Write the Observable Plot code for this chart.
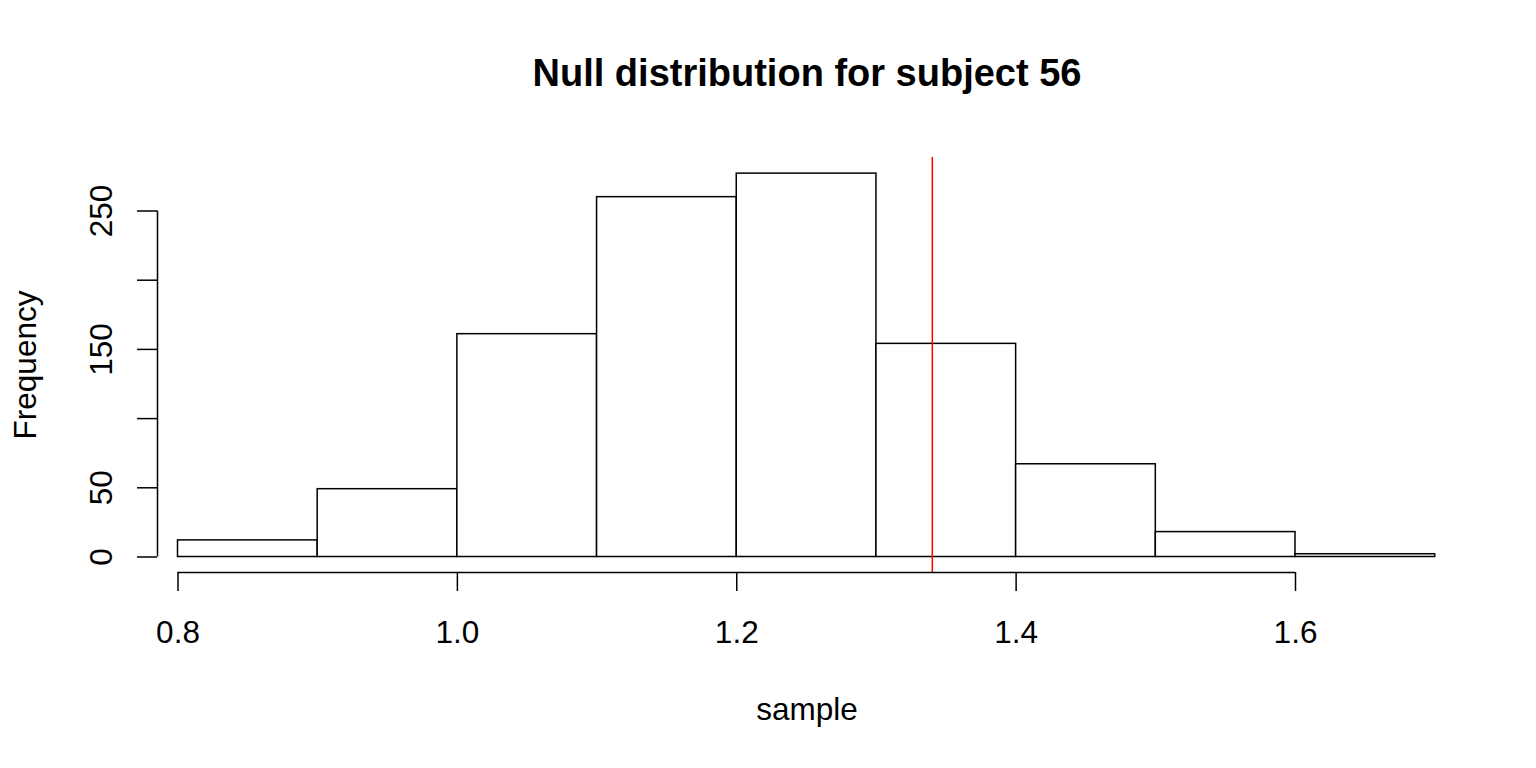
<!DOCTYPE html>
<html>
<head>
<meta charset="utf-8">
<script src="https://cdn.jsdelivr.net/npm/d3@7"></script>
<script src="https://cdn.jsdelivr.net/npm/@observablehq/plot@0.6"></script>
<style>
  html, body { margin: 0; padding: 0; background: #ffffff; }
  #chart svg { display: block; }
</style>
</head>
<body>
<div id="chart"></div>
<script>
// ---- data ----
const titleText = "Null distribution for subject 56";
const xLabel = "sample";
const yLabel = "Frequency";
const binStarts = [0.8, 0.9, 1.0, 1.1, 1.2, 1.3, 1.4, 1.5, 1.6];
const binEnds   = [0.9, 1.0, 1.1, 1.2, 1.3, 1.4, 1.5, 1.6, 1.7];
const counts    = [12, 49, 161, 260, 277, 154, 67, 18, 2];
const observed  = [1.34];
const xTicks = [0.8, 1.0, 1.2, 1.4, 1.6];
const yTicks = [0, 50, 100, 150, 200, 250];
const yTickLabels = [0, 50, 150, 250];

const bins = binStarts.map((x0, i) => ({x0, x1: binEnds[i], count: counts[i]}));

const FS = 31.5;

const chart = Plot.plot({
  width: 1536,
  height: 768,
  marginLeft: 157,
  marginRight: 80,
  marginTop: 157,
  marginBottom: 196,
  x: {domain: [0.8, 1.6], range: [177.5, 1295]},
  y: {domain: [0, 250], range: [556.5, 210.5]},
  style: {fontFamily: "'Liberation Sans', Arial, Helvetica, sans-serif", background: "#ffffff", color: "#000000"},
  marks: [
    Plot.rectY(bins, {x1: "x0", x2: "x1", y1: 0, y2: "count", fill: "white", stroke: "black", strokeWidth: 1.5, inset: 0}),
    Plot.ruleX(observed, {x: d => d, stroke: "#ff0000", strokeWidth: 1.5}),
    // x axis
    Plot.ruleY([0], {x1: xTicks[0], x2: xTicks[xTicks.length - 1], dy: 15.5, stroke: "black", strokeWidth: 1.5}),
    Plot.axisX({ticks: xTicks, tickSize: 19, tickPadding: 29.5, tickFormat: d3.format(".1f"), fontSize: FS, label: null, strokeWidth: 1.5, stroke: "black", fill: "black"}),
    // y axis
    Plot.ruleX([xTicks[0]], {y1: yTicks[0], y2: yTicks[yTicks.length - 1], dx: -20.5, stroke: "black", strokeWidth: 1.5}),
    Plot.axisY({ticks: yTicks, tickSize: 20, tickFormat: () => "", label: null, strokeWidth: 1.5, stroke: "black"}),
    Plot.text(yTickLabels, {y: d => d, text: d => String(d), frameAnchor: "left", textAnchor: "middle", dx: -56, rotate: -90, fontSize: FS, lineAnchor: "middle", fill: "black"}),
    // labels
    Plot.text([xLabel], {text: d => d, frameAnchor: "bottom", dy: 137, fontSize: FS, lineAnchor: "middle", fill: "black"}),
    Plot.text([yLabel], {text: d => d, frameAnchor: "left", textAnchor: "middle", dx: -132, rotate: -90, fontSize: FS, lineAnchor: "middle", fill: "black"}),
    Plot.text([titleText], {text: d => d, frameAnchor: "top", dy: -84, fontSize: 38, fontWeight: "bold", lineAnchor: "middle", fill: "black"})
  ]
});
document.getElementById("chart").appendChild(chart);
</script>
</body>
</html>
